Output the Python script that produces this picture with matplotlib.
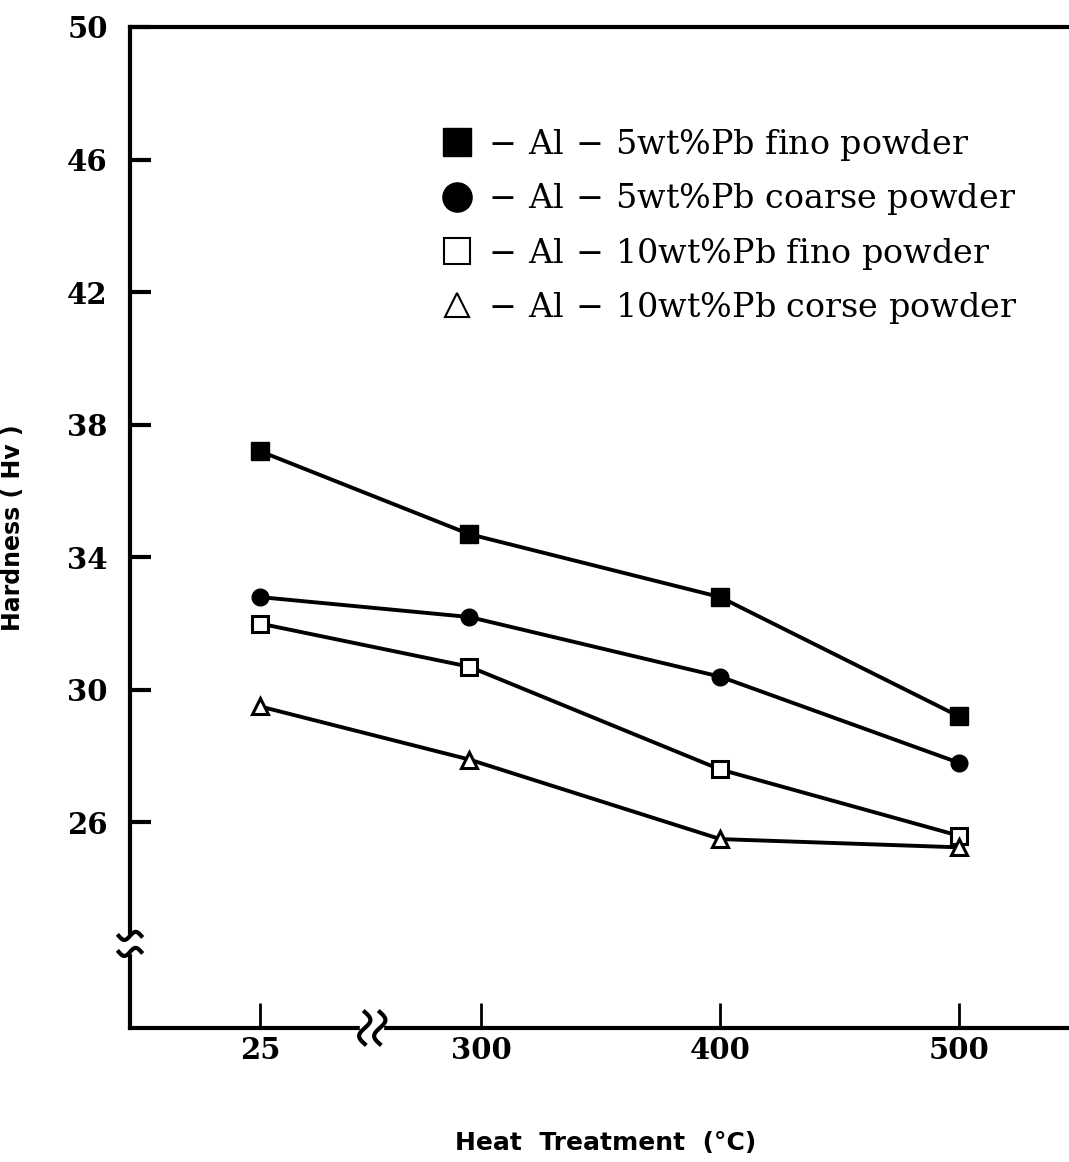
import numpy as np
import matplotlib
matplotlib.use("Agg")
import matplotlib.pyplot as plt
from matplotlib.lines import Line2D

# data
temps = [25, 295, 400, 500]
tick_temps = [25, 300, 400, 500]
tick_labels = ["25", "300", "400", "500"]
y_ticks = [26, 30, 34, 38, 42, 46, 50]

al5_fine = [37.2, 34.7, 32.8, 29.2]
al5_coarse = [32.8, 32.2, 30.4, 27.8]
al10_fine = [32.0, 30.7, 27.6, 25.6]
al10_coarse = [29.5, 27.9, 25.5, 25.25]

labels = [
    r"$\,-\,$Al$\,-\,$5wt%Pb fino powder",
    r"$\,-\,$Al$\,-\,$5wt%Pb coarse powder",
    r"$\,-\,$Al$\,-\,$10wt%Pb fino powder",
    r"$\,-\,$Al$\,-\,$10wt%Pb corse powder",
]


def axis_x(t):
    # broken x axis: 25 sits before the break, the rest is linear
    t = np.asarray(t, dtype=float)
    return np.where(t < 200, 207.5, t)


fig = plt.figure(figsize=(10.69, 11.62), dpi=100)
ax = fig.add_axes([130 / 1069, 1 - 1028 / 1162, 1 - 130 / 1069, (1028 - 27) / 1162])

styles = [
    dict(marker="s", ms=13, mfc="black", mec="black"),
    dict(marker="o", ms=12, mfc="black", mec="black"),
    dict(marker="s", ms=11, mfc="white", mec="black", mew=2.2),
    dict(marker="^", ms=11, mfc="white", mec="black", mew=2.2),
]
series = [al5_fine, al5_coarse, al10_fine, al10_coarse]
for vals, st in zip(series, styles):
    ax.plot(axis_x(temps), vals, color="black", lw=2.8, zorder=3, **st)

ax.set_xlim(153, 546)
ax.set_ylim(19.8, 50)
ax.set_xticks(axis_x(tick_temps))
ax.set_xticklabels(tick_labels)
ax.set_yticks(y_ticks)

ax.spines["right"].set_visible(False)
for side in ["left", "bottom", "top"]:
    ax.spines[side].set_linewidth(3)

ax.tick_params(axis="y", direction="in", length=15, width=3, pad=16)
ax.tick_params(axis="x", direction="in", length=18, width=2, pad=6)
for lab in ax.get_xticklabels() + ax.get_yticklabels():
    lab.set_fontfamily("DejaVu Serif")
    lab.set_fontweight("bold")
    lab.set_fontsize(21)

ax.set_ylabel("Hardness ( Hv )", fontsize=17, fontweight="bold")
ax.yaxis.set_label_coords(-0.112, 0.50)
ax.set_xlabel("Heat  Treatment  (°C)", fontsize=18, fontweight="bold")
ax.xaxis.set_label_coords(0.507, -0.103)

# axis break marks
tr = ax.transAxes
ax.add_patch(plt.Rectangle((-0.02, 0.075), 0.04, 0.018, transform=tr,
                           color="white", clip_on=False, zorder=5))
s = np.linspace(-1, 1, 50)
for dy in (0.076, 0.092):
    ax.plot(s * 0.012, dy + 0.004 * np.sin(s * np.pi), transform=tr,
            color="black", lw=3, clip_on=False, zorder=6)
ax.add_patch(plt.Rectangle((0.245, -0.015), 0.024, 0.03, transform=tr,
                           color="white", clip_on=False, zorder=5))
for dx in (0.250, 0.266):
    ax.plot(dx + 0.006 * np.sin(s * np.pi), s * 0.016, transform=tr,
            color="black", lw=3, clip_on=False, zorder=6)

handles = [
    Line2D([], [], ls="none", marker="s", ms=20, mfc="black", mec="black"),
    Line2D([], [], ls="none", marker="o", ms=21, mfc="black", mec="black"),
    Line2D([], [], ls="none", marker="s", ms=19, mfc="white", mec="black", mew=1.5),
    Line2D([], [], ls="none", marker="^", ms=17, mfc="white", mec="black", mew=1.5),
]
ax.legend(handles, labels, loc="upper left", bbox_to_anchor=(0.33, 0.90),
          frameon=False, handlelength=1.0, handletextpad=0.1, labelspacing=0.55,
          borderaxespad=0, borderpad=0,
          prop={"family": "DejaVu Serif", "size": 24})

fig.savefig("out.png", dpi=100)
